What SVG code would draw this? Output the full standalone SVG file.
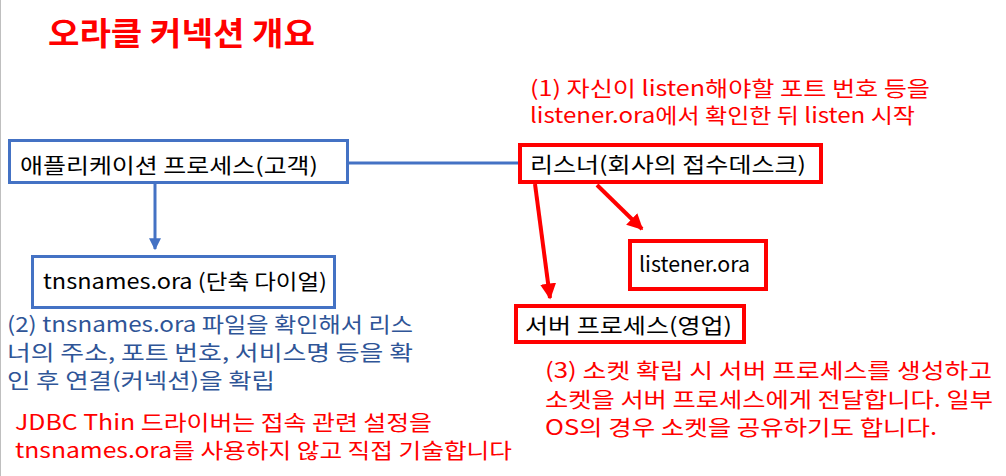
<svg xmlns="http://www.w3.org/2000/svg" width="1006" height="476" viewBox="0 0 1006 476">
<style>
text{font-family:"Noto Sans CJK KR","Noto Sans",sans-serif;font-size:21px}
.blk{fill:#000}
.red{fill:#FF0000}
.blu{fill:#2F5597}
.bbox{fill:#fff;stroke:#4472C4;stroke-width:3}
.rbox{fill:#fff;stroke:#FF0000;stroke-width:4}
.title{font-size:32px;font-weight:bold;fill:#FF0000}
</style>
<defs>
<marker id="ab" viewBox="0 0 10 10" refX="9" refY="5" markerWidth="4" markerHeight="4" orient="auto" markerUnits="strokeWidth"><path d="M0,0L10,5L0,10z" fill="#4472C4"/></marker>
<marker id="ar" viewBox="0 0 10 10" refX="9" refY="5" markerWidth="4" markerHeight="4" orient="auto" markerUnits="strokeWidth"><path d="M0,0L10,5L0,10z" fill="#FF0000"/></marker>
</defs>
<rect width="1006" height="476" fill="#fff"/>
<line x1="0.5" y1="0" x2="0.5" y2="476" stroke="#BFBFBF" stroke-width="1"/>
<text class="title" x="48" y="45" textLength="267" lengthAdjust="spacingAndGlyphs">오라클 커넥션 개요</text>
<g id="connectors">
<line x1="348" y1="163" x2="518" y2="163" stroke="#4472C4" stroke-width="3"/>
<line x1="155" y1="183" x2="155" y2="249" stroke="#4472C4" stroke-width="3" marker-end="url(#ab)"/>
<line x1="597" y1="185" x2="642" y2="229" stroke="#FF0000" stroke-width="4" marker-end="url(#ar)"/>
<line x1="535" y1="184" x2="550" y2="298" stroke="#FF0000" stroke-width="4" marker-end="url(#ar)"/>
</g>
<g id="app">
<rect class="bbox" x="9.5" y="140.5" width="338" height="42"/>
<text class="blk" x="20" y="173" textLength="298" lengthAdjust="spacingAndGlyphs">애플리케이션 프로세스(고객)</text>
</g>
<g id="tnsnames">
<rect class="bbox" x="32.5" y="256.5" width="302" height="51"/>
<text class="blk" x="43" y="289" textLength="284" lengthAdjust="spacingAndGlyphs">tnsnames.ora (단축 다이얼)</text>
</g>
<g id="listener">
<rect class="rbox" x="520" y="145" width="301" height="37"/>
<text class="blk" x="530" y="172" textLength="276" lengthAdjust="spacingAndGlyphs">리스너(회사의 접수데스크)</text>
</g>
<g id="listenerora">
<rect class="rbox" x="630" y="241" width="136" height="48"/>
<text class="blk" x="639" y="272" textLength="111" lengthAdjust="spacingAndGlyphs">listener.ora</text>
</g>
<g id="server">
<rect class="rbox" x="516" y="306" width="228" height="36"/>
<text class="blk" x="525" y="333" textLength="207" lengthAdjust="spacingAndGlyphs">서버 프로세스(영업)</text>
</g>
<g id="notes">
<text class="red" x="530" y="96" textLength="400" lengthAdjust="spacingAndGlyphs">(1) 자신이 listen해야할 포트 번호 등을</text>
<text class="red" x="530" y="123" textLength="385" lengthAdjust="spacingAndGlyphs">listener.ora에서 확인한 뒤 listen 시작</text>
<text class="blu" x="7" y="332" textLength="406" lengthAdjust="spacingAndGlyphs">(2) tnsnames.ora 파일을 확인해서 리스</text>
<text class="blu" x="7" y="360" textLength="406" lengthAdjust="spacingAndGlyphs">너의 주소, 포트 번호, 서비스명 등을 확</text>
<text class="blu" x="7" y="388" textLength="268" lengthAdjust="spacingAndGlyphs">인 후 연결(커넥션)을 확립</text>
<text class="red" x="15" y="430" textLength="417" lengthAdjust="spacingAndGlyphs">JDBC Thin 드라이버는 접속 관련 설정을</text>
<text class="red" x="15" y="458" textLength="497" lengthAdjust="spacingAndGlyphs">tnsnames.ora를 사용하지 않고 직접 기술합니다</text>
<text class="red" x="545" y="378" textLength="447" lengthAdjust="spacingAndGlyphs">(3) 소켓 확립 시 서버 프로세스를 생성하고</text>
<text class="red" x="545" y="407" textLength="448" lengthAdjust="spacingAndGlyphs">소켓을 서버 프로세스에게 전달합니다. 일부</text>
<text class="red" x="545" y="435" textLength="392" lengthAdjust="spacingAndGlyphs">OS의 경우 소켓을 공유하기도 합니다.</text>
</g>
</svg>
